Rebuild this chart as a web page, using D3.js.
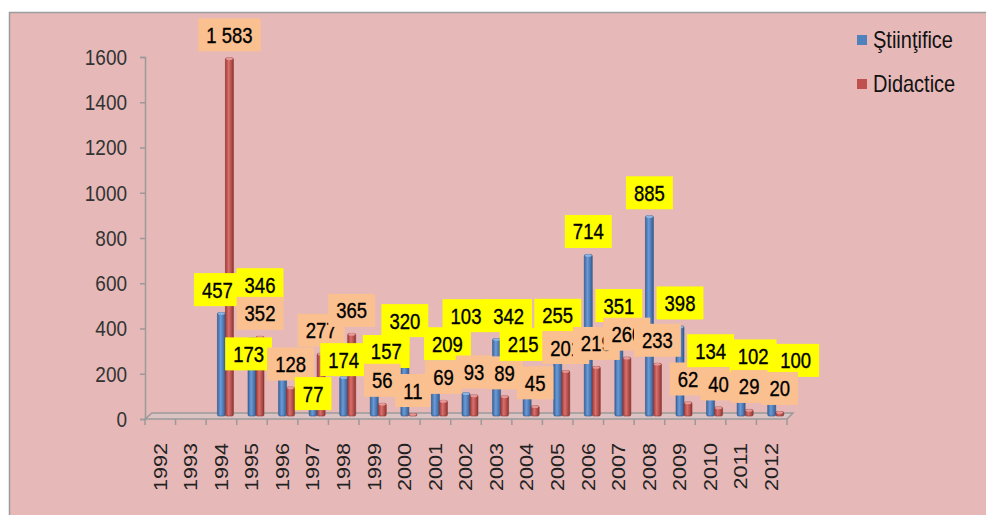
<!DOCTYPE html>
<html>
<head>
<meta charset="utf-8">
<script src="https://cdnjs.cloudflare.com/ajax/libs/d3/7.8.5/d3.min.js"></script>
<style>
  body { margin: 0; background: #fff; }
  svg { display: block; font-family: "Liberation Sans", Arial, sans-serif; }
</style>
</head>
<body>
<div id="chart"></div>
<script>
// Data
const years = ["1992", "1993", "1994", "1995", "1996", "1997", "1998", "1999", "2000", "2001",
               "2002", "2003", "2004", "2005", "2006", "2007", "2008", "2009", "2010", "2011", "2012"];
const stiintifice = [null, null, 457, 346, 173, 77, 174, 157, 320, 209, 103, 342, 215, 255, 714, 351, 885, 398, 134, 102, 100];
const didactice  = [null, null, 1583, 352, 128, 277, 365, 56, 11, 69, 93, 89, 45, 201, 219, 260, 233, 62, 40, 29, 20];
const seriesNames = ["Ştiinţifice", "Didactice"];
const yTicks = [0, 200, 400, 600, 800, 1000, 1200, 1400, 1600];

const width = 986, height = 515;
const colors = {
  blue: "#4F81BD", red: "#C0504D",
  bg: "#E6B9B8", labelBlue: "#FFFF00", labelRed: "#FAC090", axis: "#9a9a9a"
};
const stretch = 1.2;           // text in the source picture is stretched vertically
const depth = {dx: 4, dy: -3}; // bars sit in the middle of the 3D floor

const svg = d3.select("#chart")
  .append("svg")
    .attr("width", width)
    .attr("height", height);

// gradients for the round-ish 3D columns
const defs = svg.append("defs");
[["blue", "#3C6799", "#6A9ADA", "#355E90"], ["red", "#9E3B38", "#D9706D", "#913532"]].forEach(([id, a, b, c]) => {
  const g = defs.append("linearGradient").attr("id", "grad-" + id).attr("x1", 0).attr("x2", 1).attr("y1", 0).attr("y2", 0);
  g.append("stop").attr("offset", "0%").attr("stop-color", a);
  g.append("stop").attr("offset", "40%").attr("stop-color", b);
  g.append("stop").attr("offset", "100%").attr("stop-color", c);
});

// chart area (cropped at right and bottom in the source)
svg.append("rect")
  .attr("x", 9.5).attr("y", 12.5)
  .attr("width", width).attr("height", height)
  .attr("fill", colors.bg)
  .attr("stroke", "#9c9c9c")
  .attr("stroke-width", 1.5);

// scales
const x0 = d3.scaleBand().domain(years).range([145, 787]);
const x1 = d3.scaleBand().domain(seriesNames).range([0, 16]);
const y = d3.scaleLinear().domain([0, 1600]).range([419, 57]);
const groupOffset = (x0.bandwidth() - 16) / 2 + depth.dx;

// 3D floor
const fx0 = x0.range()[0], fx1 = x0.range()[1], fy = y(0);
svg.append("path")
  .attr("d", `M${fx0},${fy} L${fx1},${fy} L${fx1 + 6},${fy - 6} L${fx0 + 7},${fy - 6} Z`)
  .attr("fill", "#dcc3c3")
  .attr("stroke", colors.axis)
  .attr("stroke-width", 1.5);

// y axis
const yAxis = svg.append("g")
  .attr("transform", `translate(${fx0},0)`)
  .call(d3.axisLeft(y).tickValues(yTicks).tickSize(5).tickPadding(13).tickFormat(d3.format("d")));
yAxis.select(".domain").attr("stroke", colors.axis).attr("stroke-width", 1.5);
yAxis.selectAll(".tick line").attr("stroke", colors.axis).attr("stroke-width", 1.5);
yAxis.selectAll(".tick text")
  .attr("fill", "#333")
  .attr("font-size", 19)
  .attr("font-family", "Liberation Sans, Arial, sans-serif")
  .attr("transform", `scale(1,${stretch})`);

// x axis: ticks on the category boundaries, rotated year labels
const xAxis = svg.append("g").attr("transform", `translate(0,${fy})`);
xAxis.selectAll("line")
  .data(d3.range(years.length + 1))
  .join("line")
    .attr("x1", i => fx0 + i * x0.step())
    .attr("x2", i => fx0 + i * x0.step())
    .attr("y1", 0).attr("y2", 6)
    .attr("stroke", colors.axis)
    .attr("stroke-width", 1.5);
xAxis.selectAll("text")
  .data(years)
  .join("text")
    .attr("transform", d => `translate(${x0(d) + x0.bandwidth() / 2},24) scale(1,${stretch}) rotate(-90)`)
    .attr("text-anchor", "end")
    .attr("dy", "0.35em")
    .attr("font-size", 18)
    .attr("fill", "#222")
    .text(d => d);

// bars
const rows = years.map((yr, i) => ({
  year: yr,
  values: [
    {s: seriesNames[0], v: stiintifice[i], c: "blue"},
    {s: seriesNames[1], v: didactice[i], c: "red"}
  ].filter(d => d.v != null)
}));

const bars = svg.append("g").selectAll("g")
  .data(rows)
  .join("g")
    .attr("transform", d => `translate(${x0(d.year) + groupOffset},${depth.dy})`);

bars.selectAll("rect")
  .data(d => d.values)
  .join("rect")
    .attr("x", d => x1(d.s))
    .attr("y", d => y(d.v))
    .attr("width", x1.bandwidth())
    .attr("height", d => y(0) - y(d.v))
    .attr("rx", 1.5)
    .attr("fill", d => `url(#grad-${d.c})`)
    .attr("stroke", d => d.c === "blue" ? "#2f5585" : "#8a3330")
    .attr("stroke-width", 0.6);

bars.selectAll("ellipse")
  .data(d => d.values)
  .join("ellipse")
    .attr("cx", d => x1(d.s) + x1.bandwidth() / 2)
    .attr("cy", d => y(d.v) + 1)
    .attr("rx", x1.bandwidth() / 2 - 0.5)
    .attr("ry", 1.3)
    .attr("fill", d => d.c === "blue" ? "#8db3e2" : "#e59896");

// data labels
const fmt = d3.formatLocale({decimal: ",", thousands: " ", grouping: [3], currency: ["", ""]}).format(",d");
const labels = [];
rows.forEach(r => r.values.forEach(d => {
  labels.push({
    year: r.year, k: d.c, text: fmt(d.v),
    cx: x0(r.year) + groupOffset + x1(d.s) + x1.bandwidth() / 2,
    cy: y(d.v) + depth.dy - 23
  });
}));

const labelLayer = svg.append("g");
const measure = labelLayer.append("text").attr("font-size", 18.5);
labels.forEach(d => {
  measure.text(d.text);
  d.w = measure.node().getComputedTextLength() + 16;
  d.h = 33;
});
measure.remove();

// simple placement: didactice labels stay, stiintifice labels are nudged off the others
const box = d => ({x0: d.cx - d.w / 2, x1: d.cx + d.w / 2, y0: d.cy - d.h / 2, y1: d.cy + d.h / 2});
const hit = (a, b, tol) => a.x0 < b.x1 - tol && b.x0 < a.x1 - tol && a.y0 < b.y1 - tol && b.y0 < a.y1 - tol;
const placed = labels.filter(d => d.k === "red");
labels.filter(d => d.k === "blue").forEach(d => {
  const mate = placed.find(p => p.year === d.year);
  const maxDown = mate && d.cy > mate.cy + 8 ? 40 : 0;
  let best = null;
  for (let dy = -70; dy <= maxDown; dy += 2) {
    for (let dx = -36; dx <= 36; dx += 2) {
      const cost = Math.abs(dx) * 1.2 + Math.abs(dy);
      if (best && cost >= best.cost) continue;
      const b = box({cx: d.cx + dx, cy: d.cy + dy, w: d.w, h: d.h});
      if (placed.every(p => !hit(b, box(p), 5))) best = {dx, dy, cost};
    }
  }
  if (best) { d.cx += best.dx; d.cy += best.dy; }
  placed.push(d);
});

const lab = labelLayer.selectAll("g")
  .data(labels)
  .join("g")
    .attr("transform", d => `translate(${d.cx},${d.cy})`);
lab.append("rect")
  .attr("x", d => -d.w / 2)
  .attr("y", d => -d.h / 2)
  .attr("width", d => d.w)
  .attr("height", d => d.h)
  .attr("fill", d => d.k === "blue" ? colors.labelBlue : colors.labelRed);
lab.append("text")
  .attr("transform", `scale(1,${stretch})`)
  .attr("text-anchor", "middle")
  .attr("dy", "0.36em")
  .attr("font-size", 18.5)
  .attr("fill", "#000")
  .attr("stroke", "#000")
  .attr("stroke-width", 0.3)
  .text(d => d.text);

// legend
const legend = svg.append("g").attr("transform", "translate(857,35)");
const li = legend.selectAll("g")
  .data(seriesNames)
  .join("g")
    .attr("transform", (d, i) => `translate(0,${i * 44})`);
li.append("rect")
  .attr("width", 10).attr("height", 10)
  .attr("fill", (d, i) => i === 0 ? colors.blue : colors.red);
li.append("text")
  .attr("transform", `translate(16,5) scale(1,${stretch})`)
  .attr("dy", "0.35em")
  .attr("font-size", 20)
  .attr("fill", "#111")
  .text(d => d);
</script>
</body>
</html>
